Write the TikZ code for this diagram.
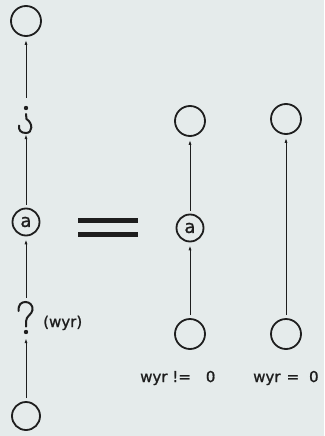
\documentclass[tikz,border=0pt]{standalone}
\usepackage{fontspec}
\newfontfamily\dv[FakeBold=1.2]{DejaVu Sans}
\usetikzlibrary{arrows.meta}
\definecolor{paper}{RGB}{229,235,235}
\definecolor{ink}{RGB}{30,30,30}
\begin{document}
\begin{tikzpicture}[x=1pt,y=-1pt,
  state/.style={circle,draw=ink,line width=1.8pt,minimum size=30pt,inner sep=0pt},
  astate/.style={state,minimum size=27pt,font=\dv\fontsize{18}{18}\selectfont,text=ink},
  glyph/.style={inner sep=0pt,minimum width=14pt},
  conn/.style={draw=ink,line width=0.9pt,-{Latex[length=5pt,width=3pt]},shorten >=3pt,shorten <=3pt},
  gl/.style={draw=ink,line width=2pt,line cap=round},
  lbl/.style={font=\dv\fontsize{15}{15}\selectfont,text=ink,inner sep=0pt}]
\fill[paper] (0,0) rectangle (324,436);
\useasboundingbox (0,0) rectangle (324,436);

% left column
\node[state] (t1) at (26,21) {};
\node[glyph,minimum height=29pt] (hk) at (26,119.5) {};
\node[astate] (a1) at (26,222) {a};
\node[glyph,minimum height=34pt] (qm) at (26,318) {};
\node[state,minimum size=28pt] (b1) at (26,416) {};

% hook glyph (inverted question mark)
\fill[ink] (26,108) circle (2.2pt);
\draw[gl] (26,114) -- (26.5,119) .. controls (33,123) and (33,133) .. (26,133) .. controls (20.5,133) and (18.5,130) .. (19,125.5);
% question mark glyph
\draw[gl] (18.5,311) .. controls (18,304.5) and (21.5,302) .. (25.5,302) .. controls (30,302) and (33,305.5) .. (32.5,310) .. controls (32,314.5) and (26,316) .. (26,321.5) -- (26,326.5);
\fill[ink] (26,332) circle (2.2pt);

\node[lbl,anchor=base west] (lw) at (43,327) {(wyr)};

% equals sign
\draw[ink,line width=4.5pt] (78,220.5) -- (138,220.5);
\draw[ink,line width=4.5pt] (78,234.5) -- (138,234.5);

% middle column
\node[state] (t2) at (190,121) {};
\node[astate] (a2) at (190,228) {a};
\node[state] (b2) at (190,334) {};
\node[lbl,anchor=base west] (l2) at (140,382) {wyr !=\hspace{15pt}0};

% right column
\node[state] (t3) at (286,119) {};
\node[state] (b3) at (286,334) {};
\node[lbl,anchor=base west] (l3) at (253,382) {wyr\hspace{6pt}=\hspace{10pt}0};

% connectors
\draw[conn] (b1) -- (qm);
\draw[conn] (qm) -- (a1);
\draw[conn,shorten >=0pt] (a1) -- (hk);
\draw[conn,shorten <=7pt] (hk) -- (t1);
\draw[conn] (b2) -- (a2);
\draw[conn] (a2) -- (t2);
\draw[conn] (b3) -- (t3);
\end{tikzpicture}
\end{document}
